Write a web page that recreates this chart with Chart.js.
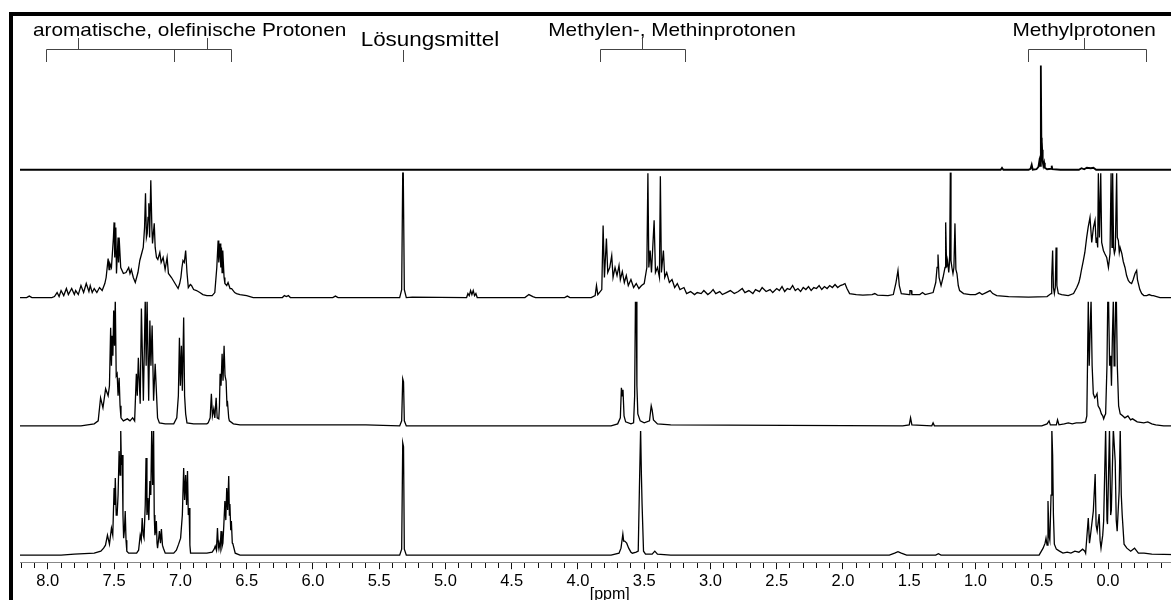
<!DOCTYPE html>
<html>
<head>
<meta charset="utf-8">
<script src="https://cdn.jsdelivr.net/npm/chart.js@4/dist/chart.umd.min.js"></script>
<style>
  html, body { margin: 0; padding: 0; background: #fff; }
  #wrap { position: relative; width: 1171px; height: 600px; overflow: hidden; }
  #rahmen { position: absolute; left: 9px; top: 12px; width: 1300px; height: 700px;
            border-left: 4px solid #000; border-top: 4px solid #000; }
  #nmr { position: absolute; left: 0; top: 0; }
</style>
</head>
<body>
<div id="wrap">
  <canvas id="nmr" width="1200" height="603"></canvas>
  <div id="rahmen"></div>
</div>
<script>
// 1H-NMR Spektren, von oben nach unten; [ppm, Intensität]
var spektrum1 = [
  [8.25,0],[0.86,0],[0.81,0],[0.80,2],[0.79,0],[0.60,0],[0.585,1],[0.576,5],[0.568,0],[0.54,0.5],
  [0.525,3],[0.518,9],[0.512,4],[0.508,30],[0.506,104],[0.503,32],[0.500,18],[0.497,20],[0.493,8],
  [0.488,4],[0.482,7],[0.477,2],[0.46,0.5],[0.43,1],[0.425,4],[0.42,0.5],[0.36,0],[0.22,0],[0.2,1.5],
  [0.18,0.5],[0.16,2],[0.13,1.5],[0.11,2],[0.09,0],[-0.7,0]
];

var spektrum2 = [
  [8.25,0],[8.16,0],[8.14,1.5],[8.12,0],[7.97,0],[7.95,1],[7.93,5],[7.915,1],[7.90,7],[7.88,2],[7.86,9],
  [7.845,3],[7.82,9],[7.80,3],[7.79,7],[7.77,3],[7.75,12],[7.73,5],[7.71,14],[7.69,6],[7.68,12],[7.665,5],
  [7.65,9],[7.63,5],[7.61,10],[7.59,7],[7.57,14],[7.56,20],[7.545,39],[7.538,28],[7.532,34],[7.52,30],
  [7.505,60],[7.50,75],[7.495,40],[7.487,70],[7.482,24],[7.475,45],[7.47,60],[7.466,35],[7.462,60],
  [7.45,30],[7.43,24],[7.41,25],[7.39,30],[7.38,24],[7.37,28],[7.355,20],[7.34,15],[7.32,25],[7.306,37],
  [7.29,45],[7.28,50],[7.27,70],[7.263,104],[7.256,60],[7.25,64],[7.244,80],[7.238,94],[7.232,60],
  [7.223,117],[7.215,70],[7.21,54],[7.203,65],[7.197,74],[7.19,50],[7.18,40],[7.17,38],[7.155,45],
  [7.145,35],[7.13,40],[7.115,28],[7.10,40],[7.09,24],[7.067,20],[7.04,14],[7.017,9],[7.005,14],
  [6.996,20],[6.988,30],[6.98,37],[6.97,35],[6.96,47],[6.95,25],[6.94,10],[6.925,13],[6.916,12],
  [6.90,8],[6.878,7],[6.853,5],[6.83,3],[6.80,2],[6.76,2],[6.74,5],[6.725,30],[6.715,57],[6.71,35],
  [6.70,54],[6.695,30],[6.69,50],[6.685,25],[6.68,47],[6.67,20],[6.664,14],[6.65,12],[6.64,15],
  [6.625,9],[6.613,9],[6.59,5],[6.576,4],[6.55,3],[6.50,2],[6.45,0],[6.23,0],[6.215,2],[6.20,1],
  [6.185,2],[6.17,0],[5.85,0],[5.83,1.5],[5.81,0],[5.345,0],[5.33,8],[5.322,125],[5.318,125],[5.31,8],
  [5.295,0],[5.25,0.5],[4.84,0],[4.83,4],[4.82,2],[4.81,7],[4.80,3],[4.79,7],[4.78,2],[4.77,4],[4.76,0],
  [4.40,0],[4.37,3],[4.34,1],[4.32,0],[4.10,0],[4.08,1.5],[4.06,0],[3.90,0],[3.87,2],[3.86,12],[3.85,3],
  [3.82,8],[3.81,72],[3.80,20],[3.785,59],[3.775,25],[3.76,30],[3.745,42],[3.735,20],[3.72,30],
  [3.705,22],[3.69,32],[3.68,18],[3.665,26],[3.65,15],[3.635,22],[3.62,12],[3.60,18],[3.58,10],
  [3.56,14],[3.54,9],[3.52,12],[3.50,14],[3.48,30],[3.472,124],[3.465,30],[3.455,47],[3.445,25],
  [3.425,77],[3.415,25],[3.40,30],[3.385,20],[3.378,121],[3.37,25],[3.355,47],[3.345,20],[3.33,25],
  [3.31,15],[3.29,18],[3.27,10],[3.25,14],[3.23,8],[3.20,10],[3.18,4],[3.15,6],[3.12,3],[3.10,5],
  [3.07,4],[3.05,7],[3.02,3],[3.00,5],[2.98,8],[2.96,4],[2.93,6],[2.91,3],[2.88,5],[2.85,7],[2.82,4],
  [2.79,6],[2.76,9],[2.74,5],[2.71,7],[2.68,4],[2.66,8],[2.63,6],[2.61,10],[2.58,6],[2.55,8],[2.53,5],
  [2.50,9],[2.48,7],[2.46,11],[2.44,6],[2.42,9],[2.40,8],[2.38,12],[2.36,7],[2.34,9],[2.32,6],[2.30,10],
  [2.28,8],[2.26,11],[2.24,7],[2.22,10],[2.20,9],[2.18,12],[2.16,8],[2.14,11],[2.12,9],[2.10,12],
  [2.08,10],[2.06,13],[2.04,10],[2.02,12],[2.00,13],[1.985,14],[1.97,9],[1.95,4],[1.90,3],
  [1.85,2.5],[1.78,3],[1.76,4],[1.74,2.5],[1.66,2],[1.62,3],[1.60,15],[1.585,27],[1.575,12],[1.56,4],
  [1.50,3],[1.495,7],[1.485,7],[1.48,3],[1.42,3],[1.40,5],[1.38,3],[1.32,5],[1.30,15],[1.29,30],
  [1.283,43],[1.275,20],[1.26,12],[1.245,20],[1.23,30],[1.225,75],[1.218,30],[1.21,37],[1.202,25],
  [1.195,37],[1.19,125],[1.185,37],[1.178,30],[1.17,24],[1.163,30],[1.155,74],[1.148,28],[1.14,24],
  [1.13,12],[1.12,7],[1.09,4],[1.04,3],[1.00,3],[0.97,5],[0.95,3],[0.92,5],[0.89,7],[0.87,4],[0.84,2],
  [0.75,1],[0.60,0.5],[0.46,1],[0.43,4],[0.425,20],[0.418,47],[0.412,10],[0.405,4],[0.398,10],
  [0.392,50],[0.386,12],[0.375,4],[0.35,3],[0.30,2],[0.26,4],[0.236,10],[0.22,15],[0.211,20],[0.20,28],
  [0.186,37],[0.175,45],[0.161,60],[0.15,70],[0.136,80],[0.123,55],[0.11,70],[0.098,77],[0.09,55],
  [0.085,60],[0.078,50],[0.073,124],[0.065,60],[0.055,124],[0.048,55],[0.035,47],[0.025,44],
  [0.010,40],[-0.003,30],[-0.010,38],[-0.015,44],[-0.023,124],[-0.03,50],[-0.035,124],[-0.042,50],
  [-0.048,44],[-0.055,48],[-0.065,124],[-0.07,60],[-0.078,57],[-0.085,45],[-0.091,50],[-0.104,44],
  [-0.115,36],[-0.128,30],[-0.14,22],[-0.153,17],[-0.165,15],[-0.178,14],[-0.19,18],[-0.204,24],
  [-0.216,27],[-0.222,18],[-0.229,14],[-0.24,8],[-0.254,4],[-0.27,2],[-0.292,2],[-0.31,3],[-0.33,2],
  [-0.342,2],[-0.392,0],[-0.7,0]
];

var spektrum3 = [
  [8.25,0],[7.75,0],[7.70,1],[7.65,2],[7.62,5],[7.602,28],[7.584,18],[7.564,37],[7.545,30],[7.535,40],
  [7.526,98],[7.52,60],[7.515,90],[7.509,70],[7.503,115],[7.497,80],[7.491,126],[7.484,50],[7.477,52],
  [7.47,30],[7.462,48],[7.455,20],[7.448,8],[7.43,5],[7.40,7],[7.38,5],[7.36,8],[7.345,5],[7.332,52],
  [7.325,30],[7.317,68],[7.303,22],[7.294,117],[7.279,25],[7.265,126],[7.258,60],[7.251,126],
  [7.239,25],[7.23,105],[7.222,60],[7.213,100],[7.202,25],[7.19,62],[7.172,8],[7.158,3],[7.114,2],
  [7.05,2],[7.027,8],[7.015,30],[7.007,88],[7.0,40],[6.992,80],[6.985,35],[6.975,108],[6.968,30],
  [6.96,12],[6.95,3],[6.9,2],[6.8,2],[6.79,3],[6.775,8],[6.766,32],[6.758,10],[6.748,17],[6.74,8],
  [6.73,28],[6.722,8],[6.71,7],[6.705,20],[6.70,52],[6.693,40],[6.685,72],[6.678,45],[6.67,80],
  [6.663,50],[6.655,45],[6.648,20],[6.645,25],[6.635,8],[6.63,5],[6.60,2],[6.55,1],[6.0,1],[5.6,1],
  [5.345,0],[5.33,5],[5.322,47],[5.316,44],[5.31,5],[5.295,0],[4.5,0],[3.75,0],[3.70,2],[3.68,8],
  [3.672,38],[3.665,30],[3.66,36],[3.652,10],[3.64,4],[3.60,2],[3.58,3],[3.572,30],[3.566,126],
  [3.56,126],[3.555,40],[3.548,12],[3.53,5],[3.50,3],[3.46,5],[3.447,20],[3.44,16],[3.43,6],[3.40,2],
  [3.3,1],[1.55,0],[1.50,1],[1.49,8],[1.48,1],[1.33,0],[1.32,3],[1.31,0],[0.50,0],[0.46,2],[0.445,5],
  [0.435,1],[0.39,1],[0.381,6],[0.37,1],[0.33,2],[0.30,3],[0.27,2],[0.24,3],[0.2,3],[0.17,4],[0.16,10],
  [0.154,70],[0.149,126],[0.142,60],[0.136,90],[0.128,126],[0.12,60],[0.111,32],[0.10,28],[0.09,30],
  [0.083,32],[0.075,20],[0.062,17],[0.05,12],[0.04,10],[0.033,7],[0.025,10],[0.018,12],[0.008,60],
  [0.002,126],[-0.004,126],[-0.012,60],[-0.02,70],[-0.026,40],[-0.033,90],[-0.040,126],[-0.046,60],
  [-0.052,80],[-0.058,126],[-0.063,126],[-0.07,60],[-0.08,20],[-0.092,12],[-0.11,10],[-0.127,8],
  [-0.15,10],[-0.17,6],[-0.185,7],[-0.22,4],[-0.27,3],[-0.30,4],[-0.33,2],[-0.36,1],[-0.42,0],[-0.7,0]
];

var spektrum4 = [
  [8.25,0],[7.9,0],[7.8,1],[7.65,2],[7.60,4],[7.579,7],[7.565,10],[7.55,20],[7.535,11],[7.52,27],
  [7.51,20],[7.50,67],[7.495,50],[7.491,77],[7.484,40],[7.477,40],[7.47,60],[7.462,104],[7.455,80],
  [7.45,126],[7.445,90],[7.439,100],[7.433,40],[7.428,17],[7.422,25],[7.416,44],[7.41,15],[7.404,4],
  [7.39,2],[7.33,2],[7.315,5],[7.303,20],[7.295,15],[7.288,37],[7.28,20],[7.274,17],[7.265,50],
  [7.259,97],[7.252,40],[7.245,57],[7.238,35],[7.23,74],[7.223,60],[7.216,126],[7.209,70],[7.202,126],
  [7.197,40],[7.192,20],[7.186,25],[7.181,34],[7.176,12],[7.172,7],[7.165,15],[7.158,24],[7.15,12],
  [7.143,26],[7.135,10],[7.128,7],[7.114,2],[7.05,2],[7.03,5],[7.013,11],[6.998,17],[6.985,40],
  [6.975,87],[6.968,55],[6.96,80],[6.953,50],[6.946,84],[6.94,40],[6.934,47],[6.928,10],[6.923,2],
  [6.9,2],[6.8,2],[6.76,3],[6.745,6],[6.737,9],[6.728,5],[6.72,27],[6.713,8],[6.708,12],[6.70,6],
  [6.693,24],[6.686,8],[6.679,12],[6.672,30],[6.664,54],[6.657,35],[6.65,67],[6.643,45],[6.635,79],
  [6.63,40],[6.626,51],[6.62,25],[6.615,34],[6.608,12],[6.603,11],[6.586,2],[6.55,0],[5.6,0],
  [5.345,0],[5.33,6],[5.322,112],[5.316,108],[5.31,6],[5.295,0],[3.75,0],[3.69,2],[3.675,7],
  [3.661,21],[3.655,14],[3.647,14],[3.632,12],[3.617,7],[3.60,3],[3.589,2],[3.56,3],[3.545,4],
  [3.536,67],[3.527,126],[3.521,80],[3.516,51],[3.505,4],[3.49,1],[3.44,1],[3.42,4],[3.40,1],[3.3,0],
  [1.65,0],[1.61,2],[1.585,3.5],[1.56,2],[1.52,0],[1.30,0],[1.28,1.5],[1.26,0],[0.52,0],[0.49,7],
  [0.475,12],[0.468,17],[0.46,10],[0.453,54],[0.446,20],[0.439,15],[0.43,60],[0.424,126],[0.418,100],
  [0.412,40],[0.405,11],[0.39,6],[0.366,4],[0.34,2],[0.308,3],[0.28,2],[0.25,4],[0.22,3],[0.192,6],
  [0.175,4],[0.169,2],[0.149,37],[0.14,12],[0.134,18],[0.111,44],[0.097,81],[0.09,30],[0.082,24],
  [0.067,41],[0.06,15],[0.053,7],[0.04,20],[0.033,34],[0.018,126],[0.008,35],[0.004,31],[-0.011,126],
  [-0.02,40],[-0.025,45],[-0.04,126],[-0.054,94],[-0.062,35],[-0.069,24],[-0.084,64],[-0.092,126],
  [-0.1,60],[-0.107,40],[-0.121,11],[-0.142,7],[-0.171,4],[-0.2,7],[-0.229,2],[-0.272,2],[-0.33,1],
  [-0.7,0]
];

var tickLabels = ['8.0','7.5','7.0','6.5','6.0','5.5','5.0','4.5','4.0','3.5','3.0','2.5','2.0','1.5','1.0','0.5','0.0'];

// Beschriftungen oben: Text, Mitte in ppm
var gruppen = [
  { text: 'aromatische, olefinische Protonen', ppm: 6.93, y: 36, size: 19 },
  { text: 'Lösungsmittel', ppm: 5.117, y: 46, size: 20.5 },
  { text: 'Methylen-, Methinprotonen', ppm: 3.29, y: 36, size: 19 },
  { text: 'Methylprotonen', ppm: 0.18, y: 36, size: 19 }
];
// Klammern: von, bis, Striche nach unten, Striche nach oben (ppm)
var klammern = [
  { von: 8.015, bis: 6.62, runter: [8.015, 7.05, 6.62], hoch: [7.77, 6.80] },
  { von: null, bis: null, runter: [5.32], hoch: [] },
  { von: 3.83, bis: 3.19, runter: [3.83, 3.19], hoch: [3.52] },
  { von: 0.606, bis: -0.29, runter: [0.606, -0.29], hoch: [0.18] }
];

var minorTicks = [];
for (var t = 82; t >= -6; t--) minorTicks.push(t / 10);

function toXY(arr) {
  return arr.map(function(p){ return {x: p[0], y: p[1]}; });
}

function istMajor(v) {
  return tickLabels.indexOf((Math.round(v * 10) / 10).toFixed(1)) >= 0;
}

var bandClip = {
  id: 'bandClip',
  beforeDatasetDraw: function(chart, args) {
    var ys = chart.scales[args.meta.yAxisID];
    var a = chart.chartArea;
    chart.ctx.save();
    chart.ctx.beginPath();
    chart.ctx.rect(a.left, ys.top, a.right - a.left, ys.bottom - ys.top);
    chart.ctx.clip();
  },
  afterDatasetDraw: function(chart) {
    chart.ctx.restore();
  }
};

var annot = {
  id: 'annot',
  afterDraw: function(chart) {
    var ctx = chart.ctx, xs = chart.scales.x;
    ctx.save();
    ctx.fillStyle = '#000';
    ctx.textBaseline = 'alphabetic';
    ctx.textAlign = 'center';
    gruppen.forEach(function(g){
      ctx.save();
      ctx.font = g.size + 'px "Liberation Sans", Arial, sans-serif';
      ctx.translate(xs.getPixelForValue(g.ppm), g.y);
      ctx.scale(1.095, 1);
      ctx.fillText(g.text, 0, 0);
      ctx.restore();
    });
    // Achsentitel
    ctx.font = '16px "Liberation Sans", Arial, sans-serif';
    ctx.textBaseline = 'middle';
    ctx.fillText('[ppm]', xs.getPixelForValue(3.76), chart.chartArea.bottom + 32);

    ctx.strokeStyle = '#444';
    ctx.lineWidth = 1;
    ctx.beginPath();
    klammern.forEach(function(k){
      if (k.von !== null) {
        ctx.moveTo(Math.round(xs.getPixelForValue(k.von)) + 0.5, 49.5);
        ctx.lineTo(Math.round(xs.getPixelForValue(k.bis)) + 0.5, 49.5);
      }
      k.runter.forEach(function(p){
        var px = Math.round(xs.getPixelForValue(p)) + 0.5;
        ctx.moveTo(px, k.von === null ? 50 : 49.5);
        ctx.lineTo(px, 62);
      });
      k.hoch.forEach(function(p){
        var px = Math.round(xs.getPixelForValue(p)) + 0.5;
        ctx.moveTo(px, 38);
        ctx.lineTo(px, 49.5);
      });
    });
    ctx.stroke();
    ctx.restore();
  }
};

function yAchse(min, max, weight, h) {
  return { type: 'linear', display: false, min: min, max: max, stack: 'nmr',
           stackWeight: h, weight: weight, offset: false };
}

var linie = { borderColor: '#000', pointRadius: 0, tension: 0, fill: false };

new Chart(document.getElementById('nmr'), {
  type: 'line',
  data: {
    datasets: [
      Object.assign({ data: toXY(spektrum1), yAxisID: 'y1', borderWidth: 1.8 }, linie),
      Object.assign({ data: toXY(spektrum2), yAxisID: 'y2', borderWidth: 1.3 }, linie),
      Object.assign({ data: toXY(spektrum3), yAxisID: 'y3', borderWidth: 1.3 }, linie),
      Object.assign({ data: toXY(spektrum4), yAxisID: 'y4', borderWidth: 1.3 }, linie)
    ]
  },
  options: {
    responsive: false,
    animation: false,
    events: [],
    layout: { padding: { left: 20, top: 60, right: 0, bottom: 10 } },
    plugins: { legend: { display: false }, tooltip: { enabled: false } },
    scales: {
      x: {
        type: 'linear',
        reverse: true,
        min: -0.694,
        max: 8.21,
        afterBuildTicks: function(axis) {
          axis.ticks = minorTicks.map(function(v){ return { value: v }; });
        },
        ticks: {
          autoSkip: false,
          maxRotation: 0,
          padding: 2,
          color: '#000',
          font: { family: '"Liberation Sans", Arial, sans-serif', size: 16.5 },
          callback: function(v) {
            return istMajor(v) ? (Math.round(v * 10) / 10).toFixed(1) : '';
          }
        },
        grid: {
          drawOnChartArea: false,
          tickLength: 7,
          tickColor: '#111',
          tickWidth: 1,
          tickBorderDash: function(c) {
            return (c.tick && istMajor(c.tick.value)) ? [] : [5, 20];
          }
        },
        border: { display: true, color: '#888', width: 1 },
        title: { display: false }
      },
      y1: yAchse(-2.5, 109.5, 4, 112),
      y2: yAchse(-4, 125, 3, 129),
      y3: yAchse(-5, 124, 2, 129),
      y4: yAchse(-7, 124, 1, 131)
    }
  },
  plugins: [bandClip, annot]
});
</script>
</body>
</html>
